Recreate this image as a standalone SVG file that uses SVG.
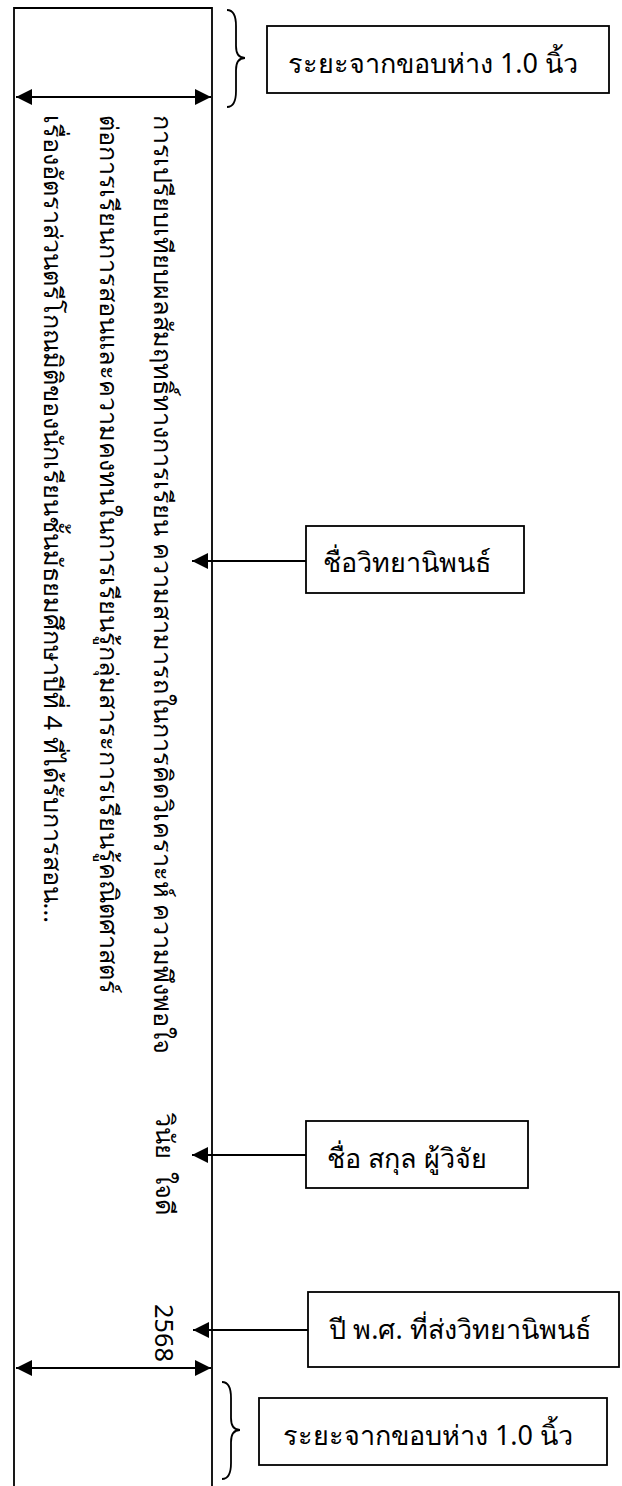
<svg xmlns="http://www.w3.org/2000/svg" width="622" height="1486" viewBox="0 0 622 1486">
<defs>
<marker id="ah" viewBox="0 0 16 16" refX="16" refY="8" markerWidth="16" markerHeight="16" markerUnits="userSpaceOnUse" orient="auto-start-reverse">
<path d="M0,0 L16,8 L0,16 Z" fill="#000"/>
</marker>
<style>
.ln{stroke:#000;stroke-width:1.8;fill:none}
.box{fill:#fff;stroke:#000;stroke-width:1.8}
.lbl{font-family:"Noto Sans","DejaVu Sans",sans-serif;font-size:27px;fill:#000}
.vt{font-family:"Noto Sans","DejaVu Sans",sans-serif;font-size:25.3px;fill:#000}
</style>
</defs>
<rect width="622" height="1486" fill="#fff"/>
<g id="page">
<path class="ln" d="M14,1486 L14,8 L212,8 L212,1486"/>
</g>
<g id="thesis-title">
<text class="vt" transform="translate(154,115) rotate(90)">การเปรียบเทียบผลสัมฤทธิ์ทางการเรียน ความสามารถในการคิดวิเคราะห์ ความพึงพอใจ</text>
<text class="vt" transform="translate(100,115) rotate(90)">ต่อการเรียนการสอนและความคงทนในการเรียนรู้กลุ่มสาระการเรียนรู้คณิตศาสตร์</text>
<text class="vt" transform="translate(44,115) rotate(90)">เรื่องอัตราส่วนตรีโกณมิติของนักเรียนชั้นมัธยมศึกษาปีที่ 4 ที่ได้รับการสอน...</text>
</g>
<g id="researcher-name">
<text class="vt" transform="translate(156,1113) rotate(90)" xml:space="preserve">วินัย  ใจดี</text>
</g>
<g id="year">
<text class="vt" transform="translate(155,1304) rotate(90)">2568</text>
</g>
<g id="top-margin-label">
<rect class="box" x="267" y="26" width="342" height="67"/>
<text class="lbl" x="433" y="73" text-anchor="middle">ระยะจากขอบห่าง 1.0 นิ้ว</text>
</g>
<g id="title-label">
<rect class="box" x="306" y="526" width="218" height="67"/>
<text class="lbl" x="407" y="572" text-anchor="middle">ชื่อวิทยานิพนธ์</text>
</g>
<g id="name-label">
<rect class="box" x="306" y="1121" width="222" height="67"/>
<text class="lbl" x="407" y="1168" text-anchor="middle">ชื่อ สกุล ผู้วิจัย</text>
</g>
<g id="year-label">
<rect class="box" x="308" y="1292" width="311" height="75"/>
<text class="lbl" x="460" y="1339" text-anchor="middle">ปี พ.ศ. ที่ส่งวิทยานิพนธ์</text>
</g>
<g id="bottom-margin-label">
<rect class="box" x="259" y="1398" width="348" height="67"/>
<text class="lbl" x="428" y="1445" text-anchor="middle">ระยะจากขอบห่าง 1.0 นิ้ว</text>
</g>
<g id="connectors">
<line class="ln" x1="16" y1="97" x2="211" y2="97" marker-start="url(#ah)" marker-end="url(#ah)"/>
<line class="ln" x1="16" y1="1368" x2="211" y2="1368" marker-start="url(#ah)" marker-end="url(#ah)"/>
<line class="ln" x1="306" y1="561" x2="192" y2="561" marker-end="url(#ah)"/>
<line class="ln" x1="306" y1="1155" x2="192" y2="1155" marker-end="url(#ah)"/>
<line class="ln" x1="308" y1="1330" x2="193" y2="1330" marker-end="url(#ah)"/>
<path class="ln" d="M227,10 C234,10 236,16 236,26 L236,46 C236,54 239,58 245,58 C239,58 236,62 236,70 L236,91 C236,101 234,107 227,107"/>
<path class="ln" d="M222,1382 C229,1382 231,1388 231,1398 L231,1418 C231,1426 234,1430 240,1430 C234,1430 231,1434 231,1442 L231,1463 C231,1473 229,1479 222,1479"/>
</g>
</svg>
